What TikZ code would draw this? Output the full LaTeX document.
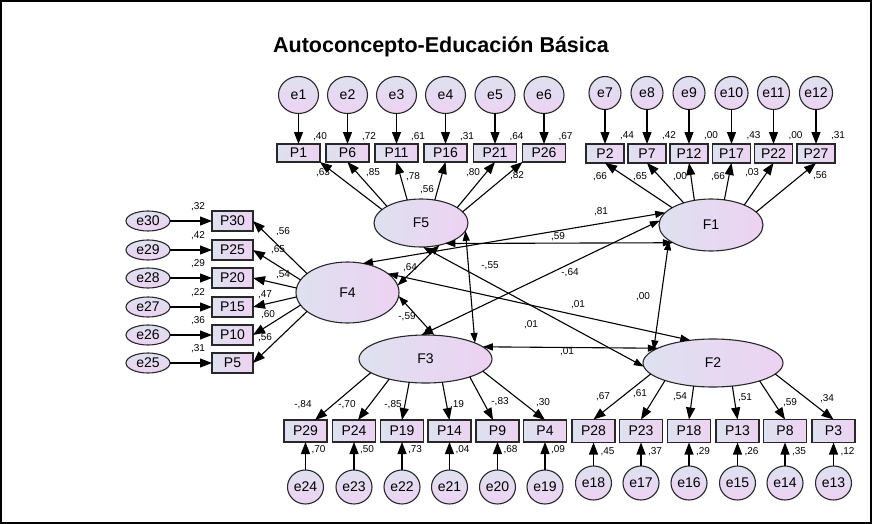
\documentclass[tikz,border=0pt]{standalone}
\usepackage{fontspec}
\setmainfont{Liberation Sans}
\usetikzlibrary{arrows.meta,shapes.geometric,calc}
\definecolor{cA}{RGB}{222,225,240}
\definecolor{cB}{RGB}{237,210,242}
\definecolor{edge}{RGB}{40,40,40}
\begin{document}
\begin{tikzpicture}[x=1pt,y=-1pt,
  every node/.style={inner sep=0pt,outer sep=0pt},
  obs/.style={rectangle,draw=edge,line width=1.1pt,left color=cA,right color=cB,font=\fontsize{14}{14}\selectfont},
  lat/.style={ellipse,draw=edge,line width=1.1pt,left color=cA,right color=cB,font=\fontsize{14}{14}\selectfont},
  errc/.style={ellipse,draw=edge,line width=1.1pt,top color=cA,bottom color=cB,font=\fontsize{14}{14}\selectfont},
  arr/.style={-{Triangle[length=12pt,width=9pt]},line width=1.1pt},
  cov/.style={{Triangle[length=10pt,width=7pt]}-{Triangle[length=10pt,width=7pt]},line width=1.1pt},
  lab/.style={font=\fontsize{10}{10}\selectfont}
]
\useasboundingbox (0,0) rectangle (872,524);
\draw[line width=1.5pt] (1,1) rectangle (871,523);
\node[font=\fontsize{21.5}{21.5}\selectfont\bfseries] (title) at (441,47) {Autoconcepto-Educación Básica};

% latent factors
\node[lat,minimum width=94pt,minimum height=48pt] (F5) at (421,223) {F5};
\node[lat,minimum width=103pt,minimum height=61pt] (F4) at (347.5,292.5) {F4};
\node[lat,minimum width=133pt,minimum height=48pt] (F3) at (425.5,359) {F3};
\node[lat,minimum width=104pt,minimum height=52pt] (F1) at (711,225) {F1};
\node[lat,minimum width=140pt,minimum height=48pt] (F2) at (713,363) {F2};

% top-left items (F5)
\foreach \nm/\xx/\ee/\rv/\ang/\anc/\lx/\ly/\ld in {
  P1/298.5/e1/40/161/south east/323/173/63,
  P6/347.5/e2/72/154/south/373/173/85,
  P11/396.5/e3/61/121/south/413/177/78,
  P16/445.5/e4/31/59/south/427/190/56,
  P21/495/e5/64/23/south/473/173/80,
  P26/544/e6/67/15/south west/517/176/82}{
  \node[obs,minimum width=43pt,minimum height=18pt] (\nm) at (\xx,153) {\nm};
  \node[errc,minimum width=40pt,minimum height=37pt] (\ee) at (\xx,95) {\ee};
  \draw[arr] (\ee) -- (\nm);
  \node[lab] (r\nm) at ($(\nm.north east)+(0,-7)$) {,\rv};
  \draw[arr] (F5.\ang) -- (\nm.\anc);
  \node[lab] (l\nm) at (\lx,\ly) {,\ld};
}

% top-right items (F1)
\foreach \nm/\xx/\ee/\rv/\ang/\lx/\ly/\ld in {
  P2/605/e7/44/156/600/177/66,
  P7/647/e8/42/141/640/177/65,
  P12/689/e9/00/124/680/177/00,
  P17/731.5/e10/43/62/718/177/66,
  P22/773.5/e11/00/31/752/173/03,
  P27/816/e12/31/16/820/176/56}{
  \node[obs,minimum width=38pt,minimum height=19pt] (\nm) at (\xx,153.5) {\nm};
  \node[errc,minimum width=32pt,minimum height=33pt] (\ee) at (\xx,93) {\ee};
  \draw[arr] (\ee) -- (\nm);
  \node[lab] (r\nm) at ($(\nm.north east)+(3,-8)$) {,\rv};
  \draw[arr] (F1.\ang) -- (\nm.south);
  \node[lab] (l\nm) at (\lx,\ly) {,\ld};
}

% left items (F4)
\foreach \nm/\yy/\ee/\rv/\ang/\lx/\ly/\ld in {
  P30/221/e30/32/155/283/232/56,
  P25/250/e29/42/165/278/250/65,
  P20/278/e28/29/175/283/275/54,
  P15/307/e27/22/185/265/295/47,
  P10/335/e26/36/195/268/315/60,
  P5/363/e25/31/205/265/338/56}{
  \node[obs,minimum width=41pt,minimum height=20pt] (\nm) at (232.5,\yy) {\nm};
  \node[errc,minimum width=44pt,minimum height=20pt] (\ee) at (148,\yy) {\ee};
  \draw[arr] (\ee) -- (\nm);
  \node[lab] (r\nm) at ($(\nm.west)+(-14,-14)$) {,\rv};
  \draw[arr] (F4.\ang) -- (\nm.east);
  \node[lab] (l\nm) at (\lx,\ly) {,\ld};
}

% bottom items (F3)
\foreach \nm/\xx/\ee/\rv/\ang/\anc/\lx/\ly/\ld in {
  P29/305.5/e24/70/194/49/303/405/-{,}84,
  P24/354/e23/50/209/70/347/405/-{,}70,
  P19/402/e22/73/235/north/393/405/-{,}85,
  P14/449.5/e21/04/306/north/457/405/{,}19,
  P9/497.5/e20/68/338/112/500/402/-{,}83,
  P4/545/e19/09/348/north/543/403/{,}30}{
  \node[obs,minimum width=43pt,minimum height=22pt] (\nm) at (\xx,431) {\nm};
  \node[errc,minimum width=36pt,minimum height=34pt] (\ee) at (\xx,487) {\ee};
  \draw[arr] (\ee) -- (\nm);
  \node[lab] (r\nm) at ($(\nm.south)+(13,8)$) {,\rv};
  \draw[arr] (F3.\ang) -- (\nm.\anc);
  \node[lab] (l\nm) at (\lx,\ly) {\ld};
}

% bottom items (F2)
\foreach \nm/\xx/\ee/\rv/\ang/\lx/\ly/\ld in {
  P28/593.5/e18/45/190.5/603/397/67,
  P23/641/e17/37/200/640/394/61,
  P18/689/e16/29/230/680/397/54,
  P13/737.5/e15/26/310/745/398/51,
  P8/785/e14/35/339/790/403/59,
  P3/833.5/e13/12/350/827/399/34}{
  \node[obs,minimum width=43pt,minimum height=23pt] (\nm) at (\xx,431) {\nm};
  \node[errc,minimum width=36pt,minimum height=34pt] (\ee) at (\xx,483) {\ee};
  \draw[arr] (\ee) -- (\nm);
  \node[lab] (r\nm) at ($(\nm.south)+(14,9)$) {,\rv};
  \draw[arr] (F2.\ang) -- (\nm.north);
  \node[lab] (l\nm) at (\lx,\ly) {,\ld};
}

% covariances
\draw[cov] (F4.62) -- (F1.165);
\node[lab] (c1) at (601,212) {,81};
\draw[cov] (F5.-40) -- (F1.205);
\node[lab] (c2) at (558,237) {,59};
\draw[cov] (F4.8) -- (F5.-50);
\node[lab] (c3) at (410,268) {,64};
\draw[cov] (F5.-10) -- (F3.18);
\node[lab] (c4) at (490,266) {-,55};
\draw[cov] (F3.100) -- (F1.175);
\node[lab] (c5) at (570,273) {-,64};
\draw[cov] (F2.168) -- (F1.200);
\node[lab] (c6) at (643,297) {,00};
\draw[cov] (F4.25) -- (F2.135);
\node[lab] (c7) at (578,305) {,01};
\draw[cov] (F5.-85) -- (F2.183);
\node[lab] (c8) at (531,325) {,01};
\draw[cov] (F3.12) -- (F2.165);
\node[lab] (c9) at (567,352) {,01};
\draw[cov] (F4.-4) -- (F3.70);
\node[lab] (c10) at (407,317) {-,59};
\end{tikzpicture}
\end{document}
